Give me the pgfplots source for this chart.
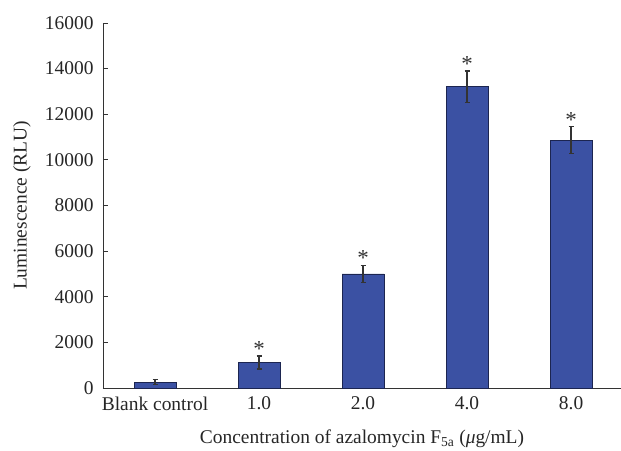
\documentclass[border=0pt]{standalone}
\usepackage{pgfplots}
\pgfplotsset{compat=1.18}
\usepackage{fontspec}
\setmainfont{Liberation Serif}
\definecolor{barblue}{HTML}{3B51A3}
\definecolor{baredge}{HTML}{1C2550}
\definecolor{axgray}{HTML}{333333}
\begin{document}
\begin{tikzpicture}
\useasboundingbox (-103bp,-63bp) rectangle (518bp,388bp);
\begin{axis}[
  at={(0,0)}, anchor=south west,
  scale only axis,
  width=518bp, height=365bp,
  xmin=-0.5, xmax=4.48,
  ymin=0, ymax=16000,
  ytick={0,2000,...,16000},
  xtick={0,1,2,3,4},
  xticklabels={Blank control,1.0,2.0,4.0,8.0},
  axis x line*=bottom, axis y line*=left,
  axis line style={axgray, line width=0.8pt},
  x tick style={draw=none},
  y tick style={axgray, line width=0.8pt},
  tick align=inside,
  major tick length=5bp,
  scaled y ticks=false,
  /pgf/number format/.cd, 1000 sep={}, assume math mode=true, /pgfplots/.cd,
  tick label style={font=\fontsize{19.5}{22}\selectfont, text=black!85},
  yticklabel style={xshift=-6bp},
  xticklabel style={yshift=-5bp},
  xlabel={Concentration of azalomycin F\textsubscript{5a} (\textit{μ}g/mL)},
  ylabel={Luminescence (RLU)},
  label style={font=\fontsize{19.5}{22}\selectfont, text=black!85},
  xlabel style={at={(axis description cs:0.5,0)}, anchor=center, yshift=-51bp},
  ylabel style={at={(axis description cs:0,0.5)}, anchor=center, xshift=0bp, yshift=81bp},
  clip=false,
]
\addplot[ybar, bar width=42bp, fill=barblue, draw=baredge, line width=0.8pt,
  error bars/.cd, y dir=both, y explicit,
  error bar style={axgray, line width=1.2pt},
  error mark options={rotate=90, mark size=2.5bp, line width=1.2pt, axgray}]
  coordinates {
  (0,260) +- (0,100)
  (1,1120) +- (0,285)
  (2,5000) +- (0,380)
  (3,13200) +- (0,700)
  (4,10870) +- (0,590)
};
\addplot[only marks, mark=none,
  nodes near coords={*},
  every node near coord/.style={anchor=south, yshift=-4bp, font=\fontsize{23}{23}\selectfont, text=axgray}]
  coordinates {
  (1,1405)
  (2,5380)
  (3,13900)
  (4,11460)
};
\end{axis}
\end{tikzpicture}
\end{document}
